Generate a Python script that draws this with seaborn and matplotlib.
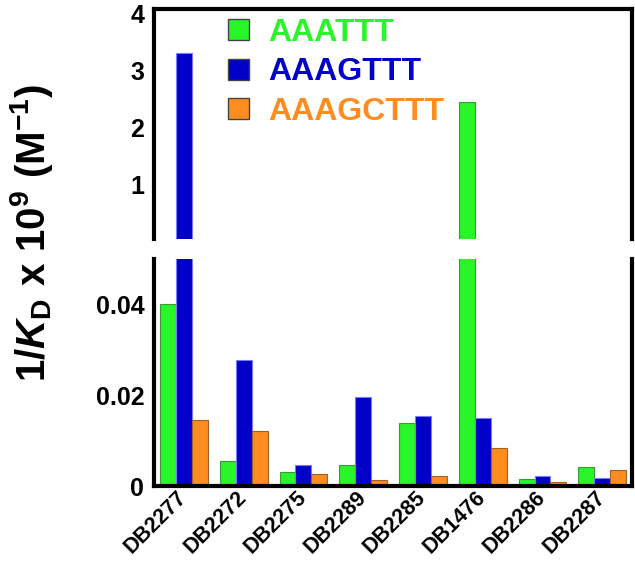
import pandas as pd
import seaborn as sns
import matplotlib.pyplot as plt
from matplotlib.patches import Patch

compounds = ['DB2277', 'DB2272', 'DB2275', 'DB2289', 'DB2285', 'DB1476', 'DB2286', 'DB2287']
sequences = ['AAATTT', 'AAAGTTT', 'AAAGCTTT']
aaattt = [0.0400, 0.0054, 0.0030, 0.0046, 0.0138, 2.45, 0.0015, 0.0042]
aaagttt = [3.30, 0.0278, 0.0046, 0.0197, 0.0154, 0.0150, 0.0022, 0.0017]
aaagcttt = [0.0146, 0.0122, 0.0027, 0.0013, 0.0021, 0.0084, 0.0008, 0.0035]

colors = ['#28f628', '#0000c8', '#ff8c1e']
edges = ['#3a9a3a', '#7a7aff', '#a0602a']

df = pd.DataFrame({
    'compound': compounds * 3,
    'sequence': [s for s in sequences for _ in compounds],
    'value': aaattt + aaagttt + aaagcttt,
})

sns.set_style('white')
plt.rcParams['font.family'] = ['Liberation Sans', 'DejaVu Sans']
plt.rcParams['font.weight'] = 'bold'
plt.rcParams['text.color'] = 'black'
plt.rcParams['xtick.color'] = 'black'
plt.rcParams['ytick.color'] = 'black'
plt.rcParams['mathtext.fontset'] = 'custom'
plt.rcParams['mathtext.rm'] = 'Liberation Sans:bold'
plt.rcParams['mathtext.it'] = 'Liberation Sans:bold:italic'
plt.rcParams['mathtext.bf'] = 'Liberation Sans:bold'

fig = plt.figure(figsize=(6.35, 5.62), dpi=100)
ax_top = fig.add_axes([0.2425, 0.5747, 0.753, 0.410])
ax_bot = fig.add_axes([0.2425, 0.1352, 0.753, 0.404])

for ax in (ax_top, ax_bot):
    sns.barplot(data=df, x='compound', y='value', hue='sequence', hue_order=sequences,
                palette=colors, order=compounds, ax=ax, legend=False, errorbar=None,
                saturation=1)
    for cont, ec in zip(ax.containers, edges):
        for bar in cont:
            bar.set_edgecolor(ec)
            bar.set_linewidth(0.8)
    ax.set_xlim(-0.5, 7.5)
    ax.set_xlabel('')
    ax.set_ylabel('')
    for side in ax.spines.values():
        side.set_linewidth(3)
        side.set_color('black')
    ax.tick_params(axis='both', length=0, pad=7, colors='black')

ax_top.set_ylim(0.05, 4.08)
ax_top.set_yticks([1, 2, 3, 4])
ax_top.set_yticklabels(['1', '2', '3', '4'], fontsize=18, fontweight='bold')
ax_top.spines['bottom'].set_visible(False)
ax_top.set_xticks([])

ax_bot.set_ylim(0, 0.05)
ax_bot.set_yticks([0, 0.02, 0.04])
ax_bot.set_yticklabels(['0', '0.02', '0.04'], fontsize=18, fontweight='bold')
ax_bot.spines['top'].set_visible(False)
ax_bot.set_xticks(range(len(compounds)))
ax_bot.set_xticklabels(compounds, rotation=45, ha='right', va='center',
                       rotation_mode='anchor', fontsize=15.5, fontweight='bold')
ax_bot.tick_params(axis='x', pad=6)

handles = [Patch(facecolor=c, edgecolor='#444444', linewidth=1) for c in colors]
leg = ax_top.legend(handles, sequences, loc='upper left', bbox_to_anchor=(0.155, 0.96),
                    frameon=False, handlelength=0.65, handleheight=0.65, handletextpad=0.6,
                    borderaxespad=0, borderpad=0, labelspacing=0.3,
                    prop={'family': 'Liberation Sans', 'weight': 'bold', 'size': 23})
for txt, c in zip(leg.get_texts(), colors):
    txt.set_color(c)

fig.text(0.049, 0.585, r'$1/\mathit{K}_{\mathrm{D}}\ \mathrm{x}\ 10^{9}\ (\mathrm{M}^{-1})$',
         rotation=90, ha='center', va='center', fontsize=29)

fig.savefig('out.png', dpi=100)
